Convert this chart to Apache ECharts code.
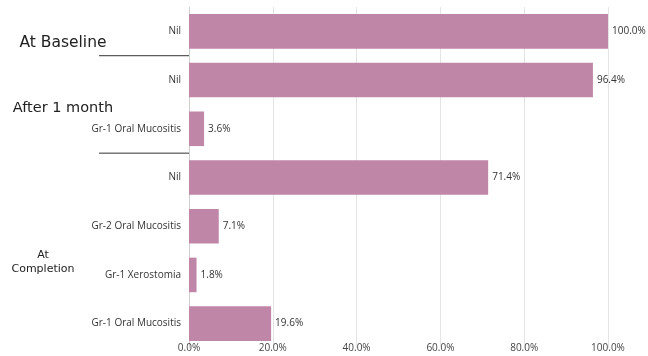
<!DOCTYPE html>
<html><head><meta charset="utf-8">
<script src="https://cdn.jsdelivr.net/npm/echarts@6/dist/echarts.min.js"></script>
<style>html,body{margin:0;padding:0;background:#fff}#c{width:648px;height:356px}</style>
</head><body><div id="c"></div>
<script>
const categories = ['Nil','Nil','Gr-1 Oral Mucositis','Nil','Gr-2 Oral Mucositis','Gr-1 Xerostomia','Gr-1 Oral Mucositis'];
const values = [100.0, 96.4, 3.6, 71.4, 7.1, 1.8, 19.6];
const groups = [
  {name: 'At Baseline', from: 0, to: 0},
  {name: 'After 1 month', from: 1, to: 2},
  {name: 'At\nCompletion', from: 3, to: 6}
];
const xTicks = [0, 20, 40, 60, 80, 100];

const FONT = '"Open Sans", sans-serif';
const GFONT = '"DejaVu Sans", sans-serif';
const ids = categories.map((c, i) => c + '|' + i);
const chart = echarts.init(document.getElementById('c'), null, {renderer: 'canvas'});
chart.setOption({
  animation: false,
  grid: {left: 189, right: 40, top: 7, bottom: 8, containLabel: false},
  xAxis: {
    type: 'value', min: xTicks[0], max: xTicks[xTicks.length - 1], interval: xTicks[1] - xTicks[0],
    axisLine: {show: false}, axisTick: {show: false},
    splitLine: {lineStyle: {color: '#e4e4e4', width: 1}},
    axisLabel: {margin: -5, color: '#444', fontSize: 10, fontFamily: FONT, formatter: v => v.toFixed(1) + '%'}
  },
  yAxis: {
    type: 'category', inverse: true, data: ids,
    axisLine: {show: true, lineStyle: {color: '#cfcfcf'}}, axisTick: {show: false},
    axisLabel: {margin: 8, color: '#333', fontSize: 10, fontFamily: FONT, formatter: v => v.split('|')[0]}
  },
  series: [{
    type: 'bar', data: values, barWidth: '71%',
    itemStyle: {color: '#c086a8'},
    label: {show: true, position: 'right', distance: 4, color: '#333', fontSize: 10, fontFamily: FONT,
      formatter: p => p.value.toFixed(1) + '%'}
  }]
});

function layoutGroups() {
  const g = [];
  const axisX = chart.convertToPixel({gridIndex: 0}, [0, 0])[0];
  const yPix = i => chart.convertToPixel({yAxisIndex: 0}, ids[i]);
  const band = yPix(1) - yPix(0);
  const sizes = [15.5, 14.5, 11];
  const dx = [63, 63, 43];
  const dy = [12, 4, 12];
  groups.forEach((gr, k) => {
    const yc = (yPix(gr.from) + yPix(gr.to)) / 2;
    g.push({type: 'text', x: dx[k], y: yc + dy[k], style: {
      text: gr.name, textAlign: 'center', textVerticalAlign: 'middle', align: 'center', verticalAlign: 'middle',
      font: sizes[k] + 'px ' + GFONT, fill: '#222', lineHeight: 14}});
    if (k < groups.length - 1) {
      const ys = yPix(gr.to) + band / 2;
      g.push({type: 'line', shape: {x1: 99, y1: ys, x2: axisX, y2: ys}, style: {stroke: '#333', lineWidth: 1}});
    }
  });
  chart.setOption({graphic: g});
}
layoutGroups();
</script></body></html>
